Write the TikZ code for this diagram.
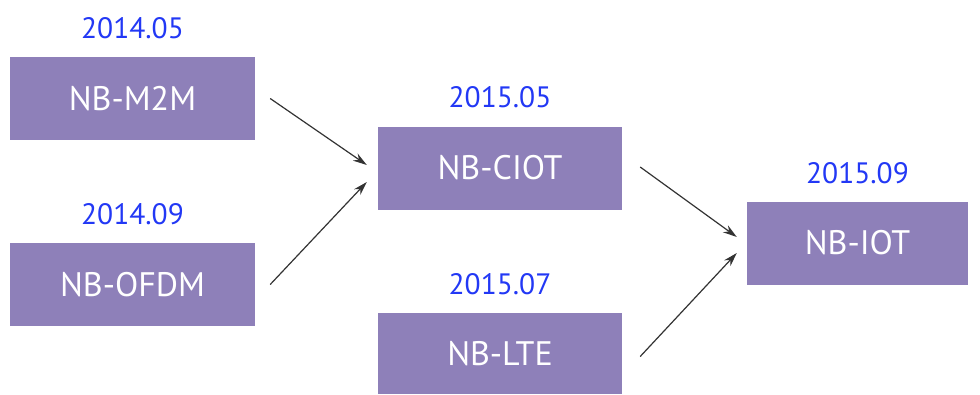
\documentclass[tikz,border=0pt]{standalone}
\usepackage{fontspec}
\setmainfont{PT Sans}
\usepackage{tikz}
\usetikzlibrary{positioning}
\usetikzlibrary{arrows.meta}
\definecolor{boxpurple}{HTML}{8E80B9}
\definecolor{dateblue}{HTML}{2238F5}
\definecolor{arrowgray}{HTML}{333333}

\begin{document}
\begin{tikzpicture} [x = 1pt, y = -1pt,
    stage/.style = {fill = boxpurple, text = white, minimum height = 83pt,
      font = \fontsize{34}{38}\selectfont},
    date/.style = {text = dateblue, inner sep = 0pt,
      font = \fontsize{29.5}{32}\selectfont},
    link/.style = {-{Stealth[length = 14pt, width = 8.5pt]}, arrowgray, line width = 1.2pt}]
    \useasboundingbox (0,0) rectangle (980,394);
    \node [stage, minimum width = 245pt] (m2m) at (132.5,98.5) {NB-M2M};
    \node [stage, minimum width = 245pt] (ofdm) at (132.5,284.5) {NB-OFDM};
    \node [stage, minimum width = 244pt] (ciot) at (500,168) {NB-CIOT};
    \node [stage, minimum width = 244pt, minimum height = 81pt] (lte) at (500,353.5) {NB-LTE};
    \node [stage, minimum width = 221pt] (iot) at (857.5,243) {NB-IOT};
    \node [date, above = 18pt of m2m] (d1) {2014.05};
    \node [date, above = 18pt of ofdm] (d2) {2014.09};
    \node [date, above = 18pt of ciot] (d3) {2015.05};
    \node [date, above = 18pt of lte] (d4) {2015.07};
    \node [date, above = 17pt of iot] (d5) {2015.09};
    \draw [link] ([xshift = 15pt]m2m.east) -- ([xshift = -11pt, yshift = 3pt]ciot.west);
    \draw [link] ([xshift = 15pt]ofdm.east) -- ([xshift = -11pt, yshift = -14pt]ciot.west);
    \draw [link] ([xshift = 18pt, yshift = 1pt]ciot.east) -- ([xshift = -10pt, yshift = 6pt]iot.west);
    \draw [link] ([xshift = 18pt, yshift = -3pt]lte.east) -- ([xshift = -10pt, yshift = -10pt]iot.west);
  \end{tikzpicture}
\end{document}
